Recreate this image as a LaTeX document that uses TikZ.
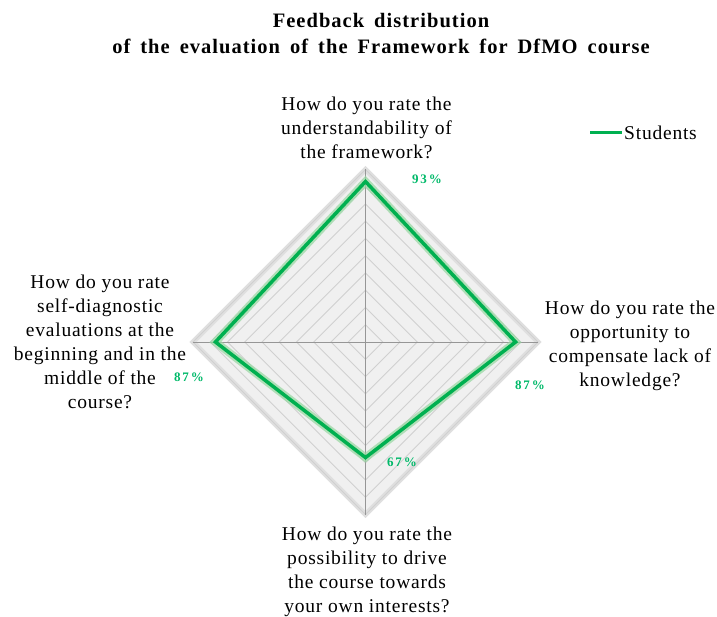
\documentclass[tikz,border=0pt]{standalone}
\usepackage{fontspec}
\usetikzlibrary{calc}
\setmainfont{Liberation Serif}
\newfontfamily\lblfont[LetterSpace=4]{Liberation Serif}
\newfontfamily\ttlfont[LetterSpace=5]{Liberation Serif}
\newfontfamily\pctfont[LetterSpace=15]{Liberation Serif}
\newcommand\ttlspacing{\spaceskip=10pt\relax}
\definecolor{serieGreen}{RGB}{0,176,80}
\definecolor{glowGreen}{RGB}{150,215,160}
\definecolor{pctGreen}{RGB}{0,185,105}
\definecolor{gridFill}{RGB}{240,240,240}
\definecolor{gridLine}{RGB}{208,208,208}
\definecolor{axisLine}{RGB}{150,150,150}
\begin{document}
\begin{tikzpicture}[x=1pt,y=-1pt,
  qlabel/.style={anchor=north,align=center,inner sep=0pt,font=\lblfont\fontsize{19.5}{24}\selectfont},
  pctlabel/.style={inner sep=0pt,text=pctGreen,font=\pctfont\bfseries\fontsize{13}{14}\selectfont},
  ringline/.style={draw=gridLine,line width=0.8pt},
  axisline/.style={draw=axisLine,line width=0.8pt},
  serieline/.style={draw=serieGreen,line width=3.5pt,line join=miter},
  glowline/.style={draw=glowGreen,line width=8pt,line join=miter,opacity=0.7}]
\useasboundingbox (0,0) rectangle (717,617);
\def\R{172.5}
\coordinate (C) at (365.5,342);
% outer diamond fill
\coordinate (T) at ($(C)+(0,-\R)$);
\coordinate (Rt) at ($(C)+(\R,0)$);
\coordinate (B) at ($(C)+(0,\R)$);
\coordinate (L) at ($(C)+(-\R,0)$);
\fill[gridFill] (T) -- (Rt) -- (B) -- (L) -- cycle;
\draw[draw=gray!25,line width=5pt,line join=miter] (T) -- (Rt) -- (B) -- (L) -- cycle;
\foreach \i in {1,...,10}{
  \draw[ringline] ($(C)+(0,-\i*\R/10)$) -- ($(C)+(\i*\R/10,0)$) -- ($(C)+(0,\i*\R/10)$) -- ($(C)+(-\i*\R/10,0)$) -- cycle;
}
\draw[axisline] (C) -- (T);
\draw[axisline] (C) -- (Rt);
\draw[axisline] (C) -- (B);
\draw[axisline] (C) -- (L);
% data
\coordinate (dT) at ($(C)+(0,-0.93*\R)$);
\coordinate (dR) at ($(C)+(0.87*\R,0)$);
\coordinate (dB) at ($(C)+(0,0.67*\R)$);
\coordinate (dL) at ($(C)+(-0.87*\R,0)$);
\draw[glowline] (dT) -- (dR) -- (dB) -- (dL) -- cycle;
\draw[serieline] (dT) -- (dR) -- (dB) -- (dL) -- cycle;
% percentage labels
\node[pctlabel] (pT) at (427,179) {93\%};
\node[pctlabel] (pR) at (530,385) {87\%};
\node[pctlabel] (pB) at (402,462) {67\%};
\node[pctlabel] (pL) at (189,377) {87\%};
% axis labels
\node[qlabel] (qT) at (366.5,97) {How do you rate the\\understandability of\\the framework?};
\node[qlabel] (qR) at (630,301) {How do you rate the\\opportunity to\\compensate lack of\\knowledge?};
\node[qlabel] (qB) at (367,527) {How do you rate the\\possibility to drive\\the course towards\\your own interests?};
\node[qlabel] (qL) at (100,275) {How do you rate\\self-diagnostic\\evaluations at the\\beginning and in the\\middle of the\\course?};
% title
\node[anchor=north,align=center,inner sep=0pt,font=\ttlfont\bfseries\fontsize{20.5}{26}\selectfont\ttlspacing] (title) at (381,13.5) {Feedback distribution\\of the evaluation of the Framework for DfMO course};
% legend
\coordinate (lg1) at (590,133);
\coordinate (lg2) at (622,133);
\draw[draw=serieGreen,line width=3pt] (lg1) -- (lg2);
\node[anchor=base west,inner sep=0pt,font=\lblfont\fontsize{19.5}{24}\selectfont] (legtext) at (624,140) {Students};
\end{tikzpicture}
\end{document}
